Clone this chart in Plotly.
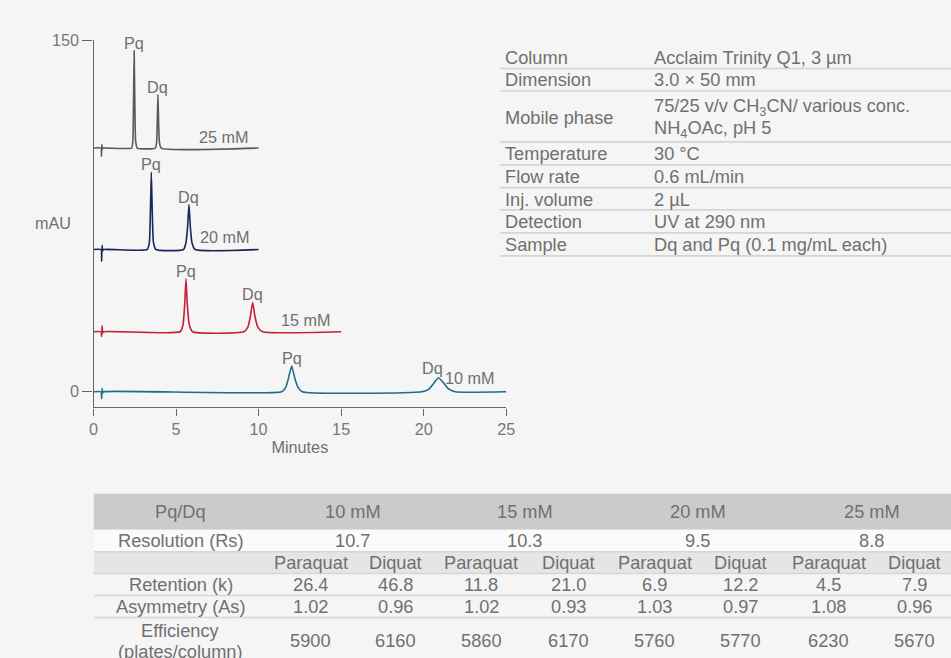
import plotly.graph_objects as go

# ---------------- chromatogram data ----------------
concentrations = ["25 mM", "20 mM", "15 mM", "10 mM"]
baseline_offsets = [104.0, 60.7, 25.6, 0.0]          # mAU, stacking offset of each trace
trace_colors = ["#5a5a5a", "#1c2557", "#c41e3a", "#1c6e8c"]

# retention time (min) / signal above own baseline (mAU)
t_25 = [0, 0.45, 0.48, 0.50, 0.53, 0.58, 2.30, 2.38, 2.42, 2.46, 2.50, 2.55, 2.65,
        3.74, 3.82, 3.86, 3.90, 3.94, 3.99, 4.10, 10.0]
s_25 = [0, 0, -3.5, 1.5, -0.5, 0, 0, 3, 20, 41.5, 20, 3, 0,
        0, 2.5, 11, 22.8, 11, 2.5, 0, 0]
t_20 = [0, 0.45, 0.49, 0.52, 0.55, 0.60, 3.25, 3.38, 3.44, 3.50, 3.56, 3.63, 3.78,
        5.45, 5.60, 5.70, 5.78, 5.86, 5.96, 6.15, 10.0]
s_20 = [0, 0, -5, 1.8, -0.5, 0, 0, 3, 15, 33, 15, 3, 0,
        0, 3, 10, 19.2, 10, 3, 0, 0]
t_15 = [0, 0.45, 0.49, 0.52, 0.55, 0.60, 5.25, 5.42, 5.52, 5.60, 5.68, 5.80, 6.00,
        9.10, 9.35, 9.50, 9.64, 9.78, 9.95, 10.25, 15.0]
s_15 = [0, 0, -2, 2.5, -0.5, 0, 0, 3, 11.5, 22.6, 11.5, 3, 0,
        0, 2, 6.5, 12.5, 6.5, 2, 0, 0]
t_10 = [0, 0.45, 0.49, 0.52, 0.55, 0.60, 11.40, 11.65, 11.80, 12.00, 12.20, 12.38, 12.65,
        19.90, 20.30, 20.60, 20.90, 21.20, 21.50, 21.90, 25.0]
s_10 = [0, 0, -3, 1.5, -0.5, 0, 0, 2, 5.5, 11, 5.5, 2, 0,
        0, 1, 3.5, 6.0, 3.8, 1.2, 0, 0]
times = [t_25, t_20, t_15, t_10]
signals = [s_25, s_20, s_15, s_10]

# peak apex (min, mAU above baseline) for labels
pq_time = [2.46, 3.50, 5.60, 12.00]
pq_height = [41.5, 33.0, 22.6, 11.0]
dq_time = [3.90, 5.78, 9.64, 20.90]
dq_height = [22.8, 19.2, 12.5, 6.0]
x_ticks = [0, 5, 10, 15, 20, 25]
y_ticks = [0, 150]

# ---------------- conditions table ----------------
cond_labels = ["Column", "Dimension", "Mobile phase", "Temperature", "Flow rate",
               "Inj. volume", "Detection", "Sample"]
cond_values = ["Acclaim Trinity Q1, 3 µm", "3.0 × 50 mm",
               "75/25 v/v CH<sub>3</sub>CN/ various conc.<br>NH<sub>4</sub>OAc, pH 5",
               "30 °C", "0.6 mL/min", "2 µL", "UV at 290 nm", "Dq and Pq (0.1 mg/mL each)"]

# ---------------- results table ----------------
header = ["Pq/Dq", "10 mM", "15 mM", "20 mM", "25 mM"]
resolution = ["10.7", "10.3", "9.5", "8.8"]
sub_headers = ["Paraquat", "Diquat"]
row_labels = ["Resolution (Rs)", "Retention (k)", "Asymmetry (As)", "Efficiency<br>(plates/column)"]
retention = [26.4, 46.8, 11.8, 21.0, 6.9, 12.2, 4.5, 7.9]
asymmetry = [1.02, 0.96, 1.02, 0.93, 1.03, 0.97, 1.08, 0.96]
efficiency = [5900, 6160, 5860, 6170, 5760, 5770, 6230, 5670]

FONT = "Liberation Sans, Helvetica, Arial, sans-serif"
TXT = "#707070"
BG = "#f5f5f5"

# figure size and screen mapping (target screen px -> figure px)
FW, FH = 960, 659
OX, OY, S = 4.0, 8.0, 0.987


def px(x):
    return ((x - OX) / S) / FW


def py(y):
    return 1 - ((y - OY) / S) / FH


def fs(v):
    return v / S


fig = go.Figure()
for t, s, off, col in zip(times, signals, baseline_offsets, trace_colors):
    fig.add_trace(go.Scatter(x=t, y=[v + off for v in s], mode="lines",
                             line=dict(color=col, width=1.6, shape="spline", smoothing=0.5),
                             hoverinfo="skip"))

ann = []
shapes = []

# background
shapes.append(dict(type="rect", xref="paper", yref="paper", x0=-0.01, x1=1.01, y0=-0.01, y1=py(8),
                   fillcolor=BG, line=dict(width=0), layer="below"))

# peak labels
for i in range(4):
    off = baseline_offsets[i]
    ann.append(dict(x=pq_time[i], y=off + pq_height[i], xref="x", yref="y", text="Pq",
                    showarrow=False, yanchor="bottom", yshift=-3, font=dict(size=fs(16), color=TXT)))
    ann.append(dict(x=dq_time[i], y=off + dq_height[i], xref="x", yref="y", text="Dq",
                    showarrow=False, yanchor="bottom", yshift=-3 if i < 3 else -1,
                    xshift=-6 if i == 3 else 0, font=dict(size=fs(16), color=TXT)))

# concentration labels
conc_label_pos = [(7.92, 4.7), (7.94, 5.4), (12.87, 5.1), (22.8, 5.7)]
for i, (tx, dy) in enumerate(conc_label_pos):
    ann.append(dict(x=tx, y=baseline_offsets[i] + dy, xref="x", yref="y", text=concentrations[i],
                    showarrow=False, yanchor="middle", font=dict(size=fs(16), color=TXT)))

# mAU label
ann.append(dict(x=px(52), y=py(222), xref="paper", yref="paper", text="mAU", showarrow=False,
                xanchor="center", yanchor="middle", font=dict(size=fs(16), color=TXT)))

# conditions table
cond_y = [57, 79, 117, 153, 176, 199, 221, 244]
cond_lines = [67.5, 90, 141, 164, 186.7, 209, 232, 255]
for lab, val, yy in zip(cond_labels, cond_values, cond_y):
    ann.append(dict(x=px(503), y=py(yy), xref="paper", yref="paper", text=lab, showarrow=False,
                    xanchor="left", yanchor="middle", font=dict(size=fs(18), color=TXT)))
    parts = val.split("<br>")
    n = len(parts)
    for k, p in enumerate(parts):
        ann.append(dict(x=px(652), y=py(yy + (k - (n - 1) / 2) * 22), xref="paper", yref="paper",
                        text=p, showarrow=False, xanchor="left", yanchor="middle",
                        font=dict(size=fs(18), color=TXT)))
for ly in cond_lines:
    shapes.append(dict(type="line", xref="paper", yref="paper", x0=px(500), x1=1.01, y0=py(ly), y1=py(ly),
                       line=dict(color="#d4d4d4", width=1.6)))

# results table
x_left = 93
shapes.append(dict(type="rect", xref="paper", yref="paper", x0=px(x_left), x1=1.01, y0=py(529), y1=py(493),
                   fillcolor="#cbcbcb", line=dict(width=0)))
shapes.append(dict(type="rect", xref="paper", yref="paper", x0=px(x_left), x1=1.01, y0=py(551), y1=py(529),
                   fillcolor="#fbfbfb", line=dict(width=0)))
shapes.append(dict(type="rect", xref="paper", yref="paper", x0=px(x_left), x1=1.01, y0=py(573), y1=py(551),
                   fillcolor="#e5e5e5", line=dict(width=0)))
for ly in [551, 573, 595, 617]:
    shapes.append(dict(type="line", xref="paper", yref="paper", x0=px(x_left), x1=1.01, y0=py(ly), y1=py(ly),
                       line=dict(color="#d6d6d6", width=1.5)))

label_x = 180
group_x = [352.5, 524.5, 698, 872]
sub_x = [310, 395, 481, 568, 655, 741, 829, 915]


def cell(x, y, text):
    ann.append(dict(x=px(x), y=py(y), xref="paper", yref="paper", text=text, showarrow=False,
                    xanchor="center", yanchor="middle", font=dict(size=fs(18), color=TXT)))


cell(label_x, 511, header[0])
for gx, h in zip(group_x, header[1:]):
    cell(gx, 511, h)
cell(label_x, 540, row_labels[0])
for gx, r in zip(group_x, resolution):
    cell(gx, 540, r)
for i, sx in enumerate(sub_x):
    cell(sx, 562, sub_headers[i % 2])
    cell(sx, 584, f"{retention[i]:.1f}")
    cell(sx, 606, f"{asymmetry[i]:.2f}")
    cell(sx, 640, f"{efficiency[i]}")
cell(label_x, 584, row_labels[1])
cell(label_x, 606, row_labels[2])
eff_parts = row_labels[3].split("<br>")
cell(label_x, 630, eff_parts[0])
cell(label_x, 651, eff_parts[1])

fig.update_layout(
    width=FW, height=FH, margin=dict(l=0, r=0, t=0, b=0),
    paper_bgcolor=BG, plot_bgcolor="rgba(0,0,0,0)", showlegend=False,
    font=dict(family=FONT, color=TXT, size=fs(16)),
    annotations=ann, shapes=shapes,
    xaxis=dict(domain=[px(92.7), px(506)], range=[0, 25], tickvals=x_ticks, ticks="outside",
               ticklen=fs(7), tickcolor="#666", showline=True, linecolor="#666", linewidth=1.3,
               showgrid=False, zeroline=False, tickfont=dict(size=fs(16), color="#777"),
               title=dict(text="Minutes", font=dict(size=fs(16), color=TXT), standoff=4)),
    yaxis=dict(domain=[py(406.7), py(39.3)], range=[-6.7, 150], tickvals=y_ticks, ticks="outside",
               ticklen=fs(10), tickcolor="#666", showline=True, linecolor="#666", linewidth=1.3,
               showgrid=False, zeroline=False, tickfont=dict(size=fs(16), color="#777")),
)

fig.write_html("out.html", config={"displayModeBar": False},
               post_script=("document.body.style.margin='0';document.body.style.overflow='hidden';"
                            "document.documentElement.style.background="
                            "'linear-gradient(#ffffff 0px, #ffffff 8px, #f5f5f5 8px)';"
                            "document.body.style.background='transparent';"))
